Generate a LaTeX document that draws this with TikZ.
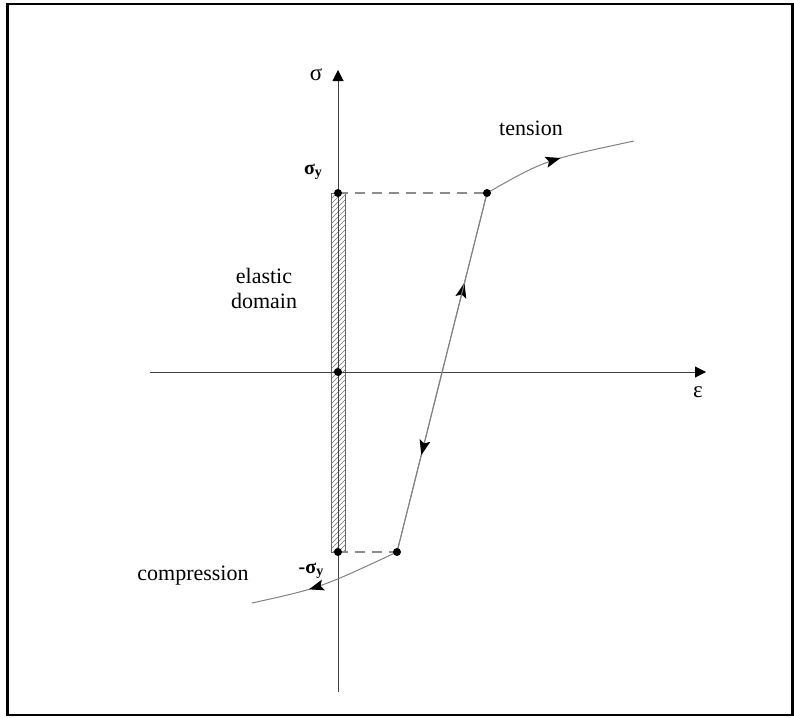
\documentclass[tikz,border=0pt]{standalone}
\usepackage{fontspec}
\setmainfont{Liberation Serif}
\usetikzlibrary{arrows.meta,decorations.markings}
\begin{document}
\begin{tikzpicture}[x=1pt,y=-1pt,
  axis/.style={draw=black!75,line width=1pt},
  curve/.style={draw=black!50,line width=1pt},
  dashline/.style={draw=black!45,line width=1.2pt,dash pattern=on 10pt off 7pt},
  dot/.style={circle,fill=black,inner sep=0pt,minimum size=8pt},
  lbl/.style={font=\fontsize{22}{25}\selectfont,inner sep=0pt},
  sym/.style={font=\fontsize{23}{25}\selectfont,inner sep=0pt},
  tri/.style={-{Triangle[length=11pt,width=11pt,color=black]}},
  midarrow/.style={postaction={decorate},decoration={markings,mark=at position #1 with {\arrow[black]{Stealth[length=15pt,width=11pt,inset=3pt]}}}}
]
\useasboundingbox (0,0) rectangle (794,717);
\draw[line width=2.5pt] (7.5,4) rectangle (792.5,715);
% key points
\coordinate (O) at (338,372);
\coordinate (SY) at (338,193);
\coordinate (NSY) at (338,552);
\coordinate (A) at (487,193);
\coordinate (B) at (397,552);
\coordinate (T) at (634,141);
\coordinate (C) at (252,603);
\coordinate (Ytop) at (338,70);
\coordinate (Ybot) at (338,692);
\coordinate (Xl) at (150,372);
\coordinate (Xr) at (706,372);
% hatched elastic domain
\begin{scope}
\clip (331,193) rectangle (345,552);
\foreach \k in {0,...,75} {
  \draw[black!55,line width=0.6pt] (325,200+5*\k) -- (351,174+5*\k);
}
\end{scope}
\draw[black!60,line width=0.8pt] (331,193) rectangle (345,552);
% axes
\draw[axis,tri] (Ybot) -- (Ytop);
\draw[axis,tri] (Xl) -- (Xr);
% dashed
\draw[dashline] (SY) -- (A);
\draw[dashline] (NSY) -- (B);
% curves
\draw[curve,midarrow=0.52] (A) .. controls (545,160) .. (T);
\draw[curve,midarrow=0.62] (B) .. controls (320,588) .. (C);
\draw[curve,midarrow=0.75] (B) -- (A);
\draw[curve,midarrow=0.73] (A) -- (B);
% dots
\node[dot] (dSY) at (SY) {};
\node[dot] (dO) at (O) {};
\node[dot] (dNSY) at (NSY) {};
\node[dot] (dA) at (A) {};
\node[dot] (dB) at (B) {};
% labels
\node[sym] (lsig) at (316,75) {σ};
\node[sym] (leps) at (698,392) {ε};
\node[font=\bfseries\fontsize{20}{22}\selectfont,inner sep=0pt] (lsy) at (313,172) {σ\raisebox{-2pt}{\fontsize{14}{14}\selectfont y}};
\node[font=\bfseries\fontsize{20}{22}\selectfont,inner sep=0pt] (lnsy) at (311,571) {-σ\raisebox{-2pt}{\fontsize{14}{14}\selectfont y}};
\node[lbl] (lten) at (531,128) {tension};
\node[lbl] (lcomp) at (193,576) {compression};
\node[lbl,align=center] (lel) at (264,288) {elastic\\domain};
\end{tikzpicture}
\end{document}
